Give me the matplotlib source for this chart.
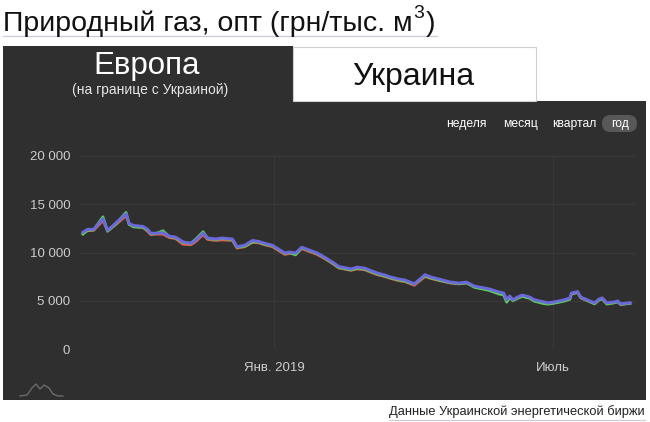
import matplotlib
matplotlib.use("Agg")
import matplotlib.pyplot as plt
from matplotlib.patches import Rectangle, FancyBboxPatch
from matplotlib.lines import Line2D
import pandas as pd
import datetime as dt

plt.rcParams['font.family'] = ['Liberation Sans', 'DejaVu Sans']

# ---------------- data ----------------
dates = ["2018-08-30","2018-09-02","2018-09-06","2018-09-12","2018-09-15","2018-09-20","2018-09-27","2018-09-29",
         "2018-10-02","2018-10-08","2018-10-11","2018-10-13","2018-10-16","2018-10-21","2018-10-25","2018-10-29",
         "2018-11-03","2018-11-08","2018-11-11","2018-11-16","2018-11-19","2018-11-24","2018-11-28","2018-12-05",
         "2018-12-08","2018-12-13","2018-12-18","2018-12-22","2018-12-26","2018-12-31","2019-01-05","2019-01-08",
         "2019-01-11","2019-01-15","2019-01-19","2019-01-24","2019-01-29","2019-02-03","2019-02-09","2019-02-12",
         "2019-02-20","2019-02-24","2019-03-01","2019-03-04","2019-03-09","2019-03-14","2019-03-18","2019-03-23",
         "2019-03-27","2019-03-30","2019-04-02","2019-04-05","2019-04-09","2019-04-13","2019-04-18","2019-04-25",
         "2019-05-01","2019-05-06","2019-05-11","2019-05-21","2019-05-27","2019-05-30","2019-06-01","2019-06-03",
         "2019-06-05","2019-06-08","2019-06-11","2019-06-16","2019-06-19","2019-06-25","2019-06-28","2019-07-02",
         "2019-07-08","2019-07-12","2019-07-13","2019-07-17","2019-07-19","2019-07-25","2019-07-28","2019-07-31",
         "2019-08-02","2019-08-05","2019-08-10","2019-08-12","2019-08-14","2019-08-18","2019-08-20"]

blue = [12100, 12400, 12400, 13500, 12300, 13000, 14000, 13000, 12800, 12700, 12400, 12000, 12000, 12050, 11700, 11600,
        11100, 10950, 11250, 12000, 11500, 11400, 11500, 11400, 10600, 10750, 11250, 11150, 10950, 10750, 10250, 9950,
        10050, 9950, 10550, 10250, 9950, 9500, 8900, 8550, 8300, 8480, 8380, 8180, 7880, 7660, 7450, 7250,
        7150, 6950, 6750, 7150, 7700, 7450, 7250, 6950, 6830, 6930, 6520, 6210, 5900, 5800, 5100, 5490,
        5100, 5380, 5590, 5380, 5100, 4880, 4780, 4880, 5080, 5280, 5800, 5950, 5380, 4980, 4780, 5180,
        5300, 4780, 4880, 4980, 4680, 4760, 4780]

red = [12000, 12250, 12300, 13300, 12250, 12850, 13800, 12950, 12700, 12600, 12200, 11850, 11900, 11900, 11550, 11450,
       10850, 10800, 11100, 11850, 11350, 11250, 11300, 11250, 10450, 10600, 11050, 11000, 10800, 10600, 10100, 9800,
       9900, 9850, 10400, 10100, 9800, 9350, 8750, 8400, 8150, 8300, 8200, 8000, 7700, 7500, 7300, 7080,
       6980, 6800, 6600, 7000, 7500, 7300, 7100, 6850, 6750, 6850, 6450, 6150, 5850, 5750, 5050, 5400,
       5050, 5300, 5500, 5300, 5000, 4800, 4700, 4800, 5000, 5200, 5700, 5850, 5300, 4900, 4700, 5100,
       5200, 4700, 4800, 4900, 4600, 4700, 4720]

green = [11900, 12300, 12350, 13700, 12200, 12900, 14150, 12900, 12650, 12600, 12300, 11950, 11950, 12250, 11650, 11550,
         11050, 10950, 11350, 12150, 11450, 11350, 11450, 11350, 10550, 10650, 11100, 11100, 10850, 10700, 10200, 9900,
         10000, 9750, 10500, 10200, 9900, 9450, 8800, 8450, 8200, 8380, 8280, 8080, 7780, 7560, 7350, 7150,
         7050, 6850, 6750, 7100, 7600, 7350, 7150, 6880, 6760, 6850, 6400, 6050, 5700, 5600, 4850, 5350,
         5000, 5250, 5450, 5250, 4950, 4700, 4650, 4750, 4950, 5150, 5700, 5900, 5350, 4900, 4680, 5100,
         5220, 4650, 4800, 4900, 4620, 4700, 4740]

y_ticks = [0, 5000, 10000, 15000, 20000]
y_tick_labels = ["0", "5 000", "10 000", "15 000", "20 000"]
x_tick_dates = ["2019-01-01", "2019-07-01"]
x_tick_labels = ["Янв. 2019", "Июль"]
range_buttons = ["неделя", "месяц", "квартал", "год"]

# ---------------- layout ----------------
W, H = 650, 422
fig = plt.figure(figsize=(W / 100, H / 100), dpi=100)
fig.patch.set_facecolor("white")

def fx(x):
    return x / W

def fy(y):
    return 1 - y / H

BG = "#2f2f2f"

# main dark panel
fig.patches.append(Rectangle((fx(3), fy(400)), fx(646) - fx(3), fy(101) - fy(400),
                             transform=fig.transFigure, facecolor=BG, edgecolor="none", zorder=-5))
# active tab (Europe)
fig.patches.append(Rectangle((fx(3), fy(102)), fx(293) - fx(3), fy(46) - fy(102),
                             transform=fig.transFigure, facecolor=BG, edgecolor="none", zorder=-5))
# inactive tab (Ukraine)
fig.patches.append(Rectangle((fx(292.5), fy(101)), fx(536) - fx(292.5), fy(47) - fy(101),
                             transform=fig.transFigure, facecolor="white", edgecolor="#cfcfcf",
                             linewidth=0.8, zorder=-5))

# title
renderer = fig.canvas.get_renderer()
t1 = fig.text(fx(3), fy(31), "Природный газ, опт (грн/тыс. м", fontsize=20.5, color="#111111",
              ha="left", va="baseline")
bb = t1.get_window_extent(renderer=renderer)
t2 = fig.text(bb.x1 / W + 1 / W, fy(18), "3", fontsize=14, color="#111111", ha="left", va="baseline")
bb2 = t2.get_window_extent(renderer=renderer)
t3 = fig.text(bb2.x1 / W + 1 / W, fy(31), ")", fontsize=20.5, color="#111111", ha="left", va="baseline")
bb3 = t3.get_window_extent(renderer=renderer)
fig.add_artist(Line2D([fx(3), bb3.x1 / W + 2 / W], [fy(36), fy(36)], transform=fig.transFigure,
                      color="#c9cbd6", linewidth=0.9))

# tab labels
fig.text(fx(147), fy(74), "Европа", fontsize=22.5, color="white", ha="center", va="baseline")
fig.text(fx(150), fy(90), "(на границе с Украиной)", fontsize=10, color="#e6e6e6", ha="center", va="center")
fig.text(fx(413), fy(85), "Украина", fontsize=23, color="#111111", ha="center", va="baseline")

# range buttons
btn_x = [466, 520, 574, 620]
fig.patches.append(FancyBboxPatch((fx(602), fy(132)), fx(637) - fx(602), fy(115) - fy(132),
                                  boxstyle="round,pad=0,rounding_size=0.013",
                                  mutation_aspect=W / H,
                                  transform=fig.transFigure, facecolor="#585858", edgecolor="none", zorder=-4))
for lbl, bx in zip(range_buttons, btn_x):
    fig.text(fx(bx), fy(123.5), lbl, fontsize=8.7, color="white", ha="center", va="center", zorder=2)

# logo (decorative)
fig.add_artist(Line2D([fx(x) for x in [20, 27, 32, 36, 40, 44, 49, 53, 58, 63]],
                      [fy(y) for y in [396, 395, 388, 384, 389, 385, 388, 394, 396, 396]],
                      transform=fig.transFigure, color="#6a6a6a", linewidth=1.0))

# footer
ft = fig.text(fx(645), fy(412), "Данные Украинской энергетической биржи", fontsize=9.3, color="#222222",
              ha="right", va="center")
fbb = ft.get_window_extent(renderer=renderer)
fig.add_artist(Line2D([fbb.x0 / W, fx(645)], [fy(420), fy(420)], transform=fig.transFigure,
                      color="#c9cbd6", linewidth=0.8))

# ---------------- axes ----------------
ax_left, ax_right, ax_top, ax_bottom = 80, 635, 156, 349
ax = fig.add_axes([fx(ax_left), fy(ax_bottom), fx(ax_right) - fx(ax_left), fy(ax_top) - fy(ax_bottom)])
ax.set_zorder(5)
ax.set_facecolor("none")
for s in ax.spines.values():
    s.set_visible(False)

jan1 = dt.datetime(2019, 1, 1)
ppd = 1.541  # pixels per day
ax.set_xlim(jan1 + dt.timedelta(days=(ax_left - 274) / ppd), jan1 + dt.timedelta(days=(ax_right - 274) / ppd))
ax.set_ylim(0, 20000)

d = pd.to_datetime(dates)
ax.plot(d, red, color="#d8604e", linewidth=2.0, solid_joinstyle="round", zorder=3, clip_on=False)
ax.plot(d, green, color="#5cc95c", linewidth=2.0, solid_joinstyle="round", zorder=4, clip_on=False)
ax.plot(d, blue, color="#6b68dc", linewidth=2.1, solid_joinstyle="round", zorder=5, clip_on=False)

ax.set_yticks(y_ticks)
ax.set_yticklabels(y_tick_labels)
ax.set_xticks(pd.to_datetime(x_tick_dates))
ax.set_xticklabels(x_tick_labels)
ax.tick_params(axis="y", length=0, pad=7, labelsize=9.5, labelcolor="#cccccc")
ax.tick_params(axis="x", length=0, pad=9.5, labelsize=9.5, labelcolor="#cccccc")

for yv in y_ticks:
    ax.axhline(yv, color="#3a3a3a" if yv else "#454545", linewidth=0.8, zorder=1)
for xv in pd.to_datetime(x_tick_dates):
    ax.axvline(xv, color="#383838", linewidth=0.8, zorder=1)

fig.savefig("out.png", dpi=100, facecolor="white")
